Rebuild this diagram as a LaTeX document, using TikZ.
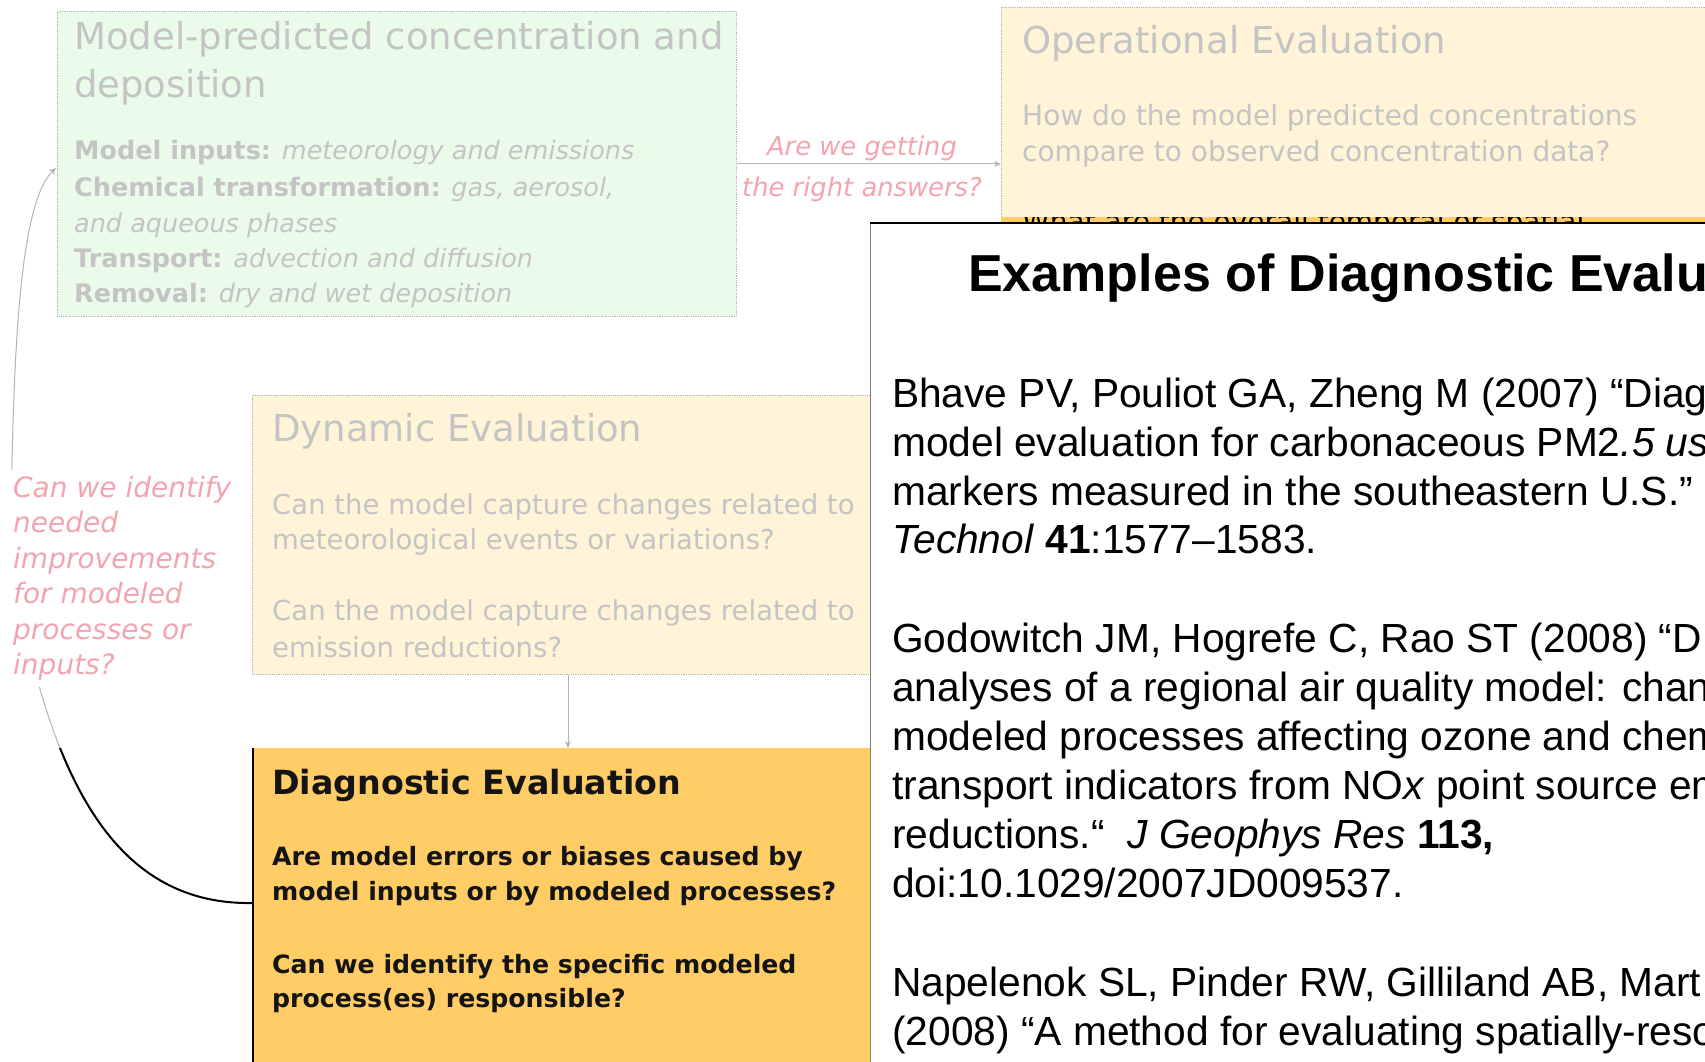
\documentclass[tikz,border=0pt]{standalone}
\usepackage{fontspec}
\setmainfont{Liberation Sans}
\newfontfamily\dv{DejaVu Sans}
\usetikzlibrary{arrows.meta}
\definecolor{fadegray}{RGB}{196,196,196}
\definecolor{fadepink}{RGB}{243,165,175}
\definecolor{fadegreen}{RGB}{234,251,234}
\definecolor{fadeorange}{RGB}{255,243,216}
\definecolor{diagfill}{RGB}{255,204,102}
\definecolor{fadeline}{RGB}{180,180,180}
\newcommand\fsz[2]{\fontsize{#1}{#2}\selectfont}
\tikzset{
  fadebox/.style={draw=fadeline, densely dotted, line width=0.8pt, inner sep=0pt, anchor=north west},
  ftitle/.style={font=\dv\fsz{37}{44}, text=fadegray, inner sep=0pt, anchor=base west},
  fbody/.style={font=\dv\fsz{28}{34}, text=fadegray, inner sep=0pt, anchor=base west},
  gbody/.style={font=\dv\fsz{25.5}{34}, text=fadegray, inner sep=0pt, anchor=base west},
  fpink/.style={font=\dv\itshape\fsz{25.8}{35.5}, text=fadepink, inner sep=0pt, anchor=base},
  fadearrow/.style={draw=fadeline, line width=1pt, -{Stealth[length=7pt,width=6pt]}},
  dtitle/.style={font=\dv\bfseries\fsz{33.3}{40}, text=black!92, inner sep=0pt, anchor=base west},
  dbody/.style={font=\dv\bfseries\fsz{25.2}{34}, text=black!92, inner sep=0pt, anchor=base west},
  reftxt/.style={font=\fsz{40.7}{49}, text=black, inner sep=0pt, anchor=base west},
}
\begin{document}
\begin{tikzpicture}[x=1pt,y=-1pt]
\clip (0,0) rectangle (1705,1062);
\fill[white] (0,0) rectangle (1705,1062);

% --- faded background diagram ---
\node[fadebox, fill=fadegreen, minimum width=679pt, minimum height=305pt] (model) at (57,11) {};
\node[ftitle] (mt1) at (74,50) {Model-predicted concentration and};
\node[ftitle] (mt2) at (74,98) {deposition};
\node[gbody] (mb1) at (74,160) {\textbf{Model inputs:} \textit{meteorology and emissions}};
\node[gbody] (mb2) at (74,196) {\textbf{Chemical transformation:} \textit{gas, aerosol,}};
\node[gbody] (mb3) at (74,232) {\textit{and aqueous phases}};
\node[gbody] (mb4) at (74,267) {\textbf{Transport:} \textit{advection and diffusion}};
\node[gbody] (mb5) at (74,302) {\textbf{Removal:} \textit{dry and wet deposition}};

\node[fadebox, fill=fadeorange, minimum width=720pt, minimum height=216pt] (oper) at (1001,7) {};
\node[ftitle] (ot) at (1022,54) {Operational Evaluation};
\node[fbody] (ob1) at (1022,126) {How do the model predicted concentrations};
\node[fbody] (ob2) at (1022,161) {compare to observed concentration data?};
\begin{scope}
  \clip (1001,217) rectangle (1705,223);
  \fill[diagfill] (1001,200) rectangle (1705,223);
  \node[fbody, text=black] (ob3) at (1022,231) {What are the overall temporal or spatial};
\end{scope}

\draw[fadearrow] (model.east) -- (model.east -| oper.west);
\node[fpink] (q1a) at (862,156) {Are we getting};
\node[fpink] (q1b) at (862,196) {the right answers?};

\node[fadebox, fill=fadeorange, minimum width=700pt, minimum height=279pt] (dyn) at (252,395) {};
\node[ftitle] (dt) at (272,441) {Dynamic Evaluation};
\node[fbody, font=\dv\fsz{27.5}{34}] (db1) at (272,514) {Can the model capture changes related to};
\node[fbody, font=\dv\fsz{27.5}{34}] (db2) at (272,549) {meteorological events or variations?};
\node[fbody, font=\dv\fsz{27.5}{34}] (db3) at (272,620) {Can the model capture changes related to};
\node[fbody, font=\dv\fsz{27.5}{34}] (db4) at (272,657) {emission reductions?};

% --- diagnostic box ---
\node[anchor=north west, fill=diagfill, minimum width=617pt, minimum height=330pt, inner sep=0pt] (diag) at (253,748) {};
\draw[black, line width=1.5pt] (diag.north west) -- (diag.south west);
\coordinate (dx) at (568,0);
\draw[fadearrow] (dx |- dyn.south) -- (dx |- diag.north);
\node[dtitle] (dg) at (272,794) {Diagnostic Evaluation};
\node[dbody] (dg1) at (272,865) {Are model errors or biases caused by};
\node[dbody] (dg2) at (272,900) {model inputs or by modeled processes?};
\node[dbody] (dg3) at (272,973) {Can we identify the specific modeled};
\node[dbody] (dg4) at (272,1007) {process(es) responsible?};

% --- feedback curve ---
\coordinate (cs) at (253,903);
\coordinate (cm) at (60,748);
\coordinate (ce) at (56,168);
\draw[fadearrow] (cs) .. controls (150,905) and (95,835) .. (cm)
   .. controls (25,660) and (10,560) .. (12,462)
   .. controls (15,330) and (22,200) .. (ce);
\node[font=\dv\itshape\fsz{28}{35.5}, text=fadepink, fill=white, inner sep=6pt, align=left, anchor=north west] (q2) at (7,470)
  {Can we identify\\needed\\improvements\\for modeled\\processes or\\inputs?};
\draw[black, line width=2pt] (cs) .. controls (150,905) and (95,835) .. (cm);

% --- overlay panel ---
\node[anchor=north west, fill=white, minimum width=900pt, minimum height=900pt, inner sep=0pt] (panel) at (870,223) {};
\draw[gray, line width=1pt] (panel.north west) -- (panel.south west);
\draw[black, line width=2.5pt] (panel.north west) -- (panel.north east);
\node[font=\bfseries\fsz{52}{60}, inner sep=0pt, anchor=base west] (ex) at (968,291) {Examples of Diagnostic Evalu};

\node[reftxt] (r1) at (892,407) {Bhave PV, Pouliot GA, Zheng M (2007) “Diag};
\node[reftxt] (r2) at (892,456) {model evaluation for carbonaceous PM2\textit{.5 us}};
\node[reftxt] (r3) at (892,505) {markers measured in the southeastern U.S.”};
\node[reftxt] (r4) at (892,553) {\textit{Technol} \textbf{41}:1577–1583.};
\node[reftxt] (r5) at (892,652) {Godowitch JM, Hogrefe C, Rao ST (2008) “D};
\node[reftxt] (r6) at (892,701) {analyses of a regional air quality model: chan};
\node[reftxt] (r7) at (892,750) {modeled processes affecting ozone and chem};
\node[reftxt] (r8) at (892,799) {transport indicators from NO\textit{x} point source em};
\node[reftxt] (r9) at (892,848) {reductions.“\ \ \textit{J Geophys Res} \textbf{113,}};
\node[reftxt] (r10) at (892,897) {doi:10.1029/2007JD009537.};
\node[reftxt] (r11) at (892,996) {Napelenok SL, Pinder RW, Gilliland AB, Mart};
\node[reftxt] (r12) at (892,1045) {(2008) “A method for evaluating spatially-reso};
\end{tikzpicture}
\end{document}
